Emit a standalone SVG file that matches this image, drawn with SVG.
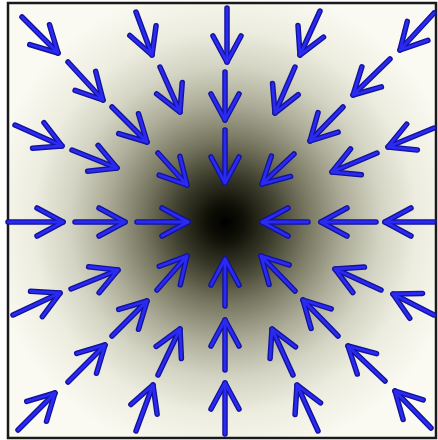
<svg xmlns="http://www.w3.org/2000/svg" xmlns:xlink="http://www.w3.org/1999/xlink" width="438" height="440" viewBox="0 0 438 440">
<style>
.dark{stroke:#12129a;stroke-width:5.5;stroke-linecap:round;marker-end:url(#hd);fill:none}
.bright{stroke:#2a2af2;stroke-width:2.8;stroke-linecap:round;marker-end:url(#hb);fill:none}
</style>
<defs>
<radialGradient id="bg" gradientUnits="userSpaceOnUse" cx="225" cy="222" r="240">
<stop offset="0" stop-color="#000000"/>
<stop offset="0.08" stop-color="#111108"/>
<stop offset="0.2" stop-color="#3c3c2c"/>
<stop offset="0.35" stop-color="#7a7a64"/>
<stop offset="0.5" stop-color="#acac98"/>
<stop offset="0.65" stop-color="#d4d4c4"/>
<stop offset="0.8" stop-color="#ececdf"/>
<stop offset="1" stop-color="#fafaf2"/>
</radialGradient>
<marker id="hd" markerUnits="userSpaceOnUse" viewBox="-36 -22 44 44" markerWidth="44" markerHeight="44" refX="0" refY="0" orient="auto" overflow="visible">
<path d="M-26,-14 L0,0 L-26,14" fill="none" stroke="#12129a" stroke-width="5.5" stroke-linecap="round" stroke-linejoin="round"/>
</marker>
<marker id="hb" markerUnits="userSpaceOnUse" viewBox="-36 -22 44 44" markerWidth="44" markerHeight="44" refX="0" refY="0" orient="auto" overflow="visible">
<path d="M-26,-14 L0,0 L-26,14" fill="none" stroke="#2a2af2" stroke-width="2.8" stroke-linecap="round" stroke-linejoin="round"/>
</marker>
<g id="field">
<line x1="8" y1="222" x2="63" y2="222"/>
<line x1="75" y1="222" x2="125" y2="222"/>
<line x1="137" y1="222" x2="188" y2="222"/>
<line x1="434" y1="222" x2="385" y2="222"/>
<line x1="376" y1="222" x2="321" y2="222"/>
<line x1="308" y1="222" x2="262" y2="222"/>
<line x1="227" y1="8" x2="227" y2="62"/>
<line x1="225" y1="72" x2="225" y2="120"/>
<line x1="225" y1="130" x2="225" y2="183"/>
<line x1="225" y1="306" x2="225" y2="259"/>
<line x1="225" y1="370" x2="225" y2="320"/>
<line x1="225" y1="434" x2="225" y2="383"/>
<line x1="22" y1="17" x2="58" y2="53"/>
<line x1="68" y1="62" x2="103" y2="100"/>
<line x1="112" y1="107" x2="147" y2="142"/>
<line x1="158" y1="153" x2="187" y2="185"/>
<line x1="136" y1="12" x2="152" y2="55"/>
<line x1="160" y1="67" x2="180" y2="112"/>
<line x1="15" y1="125" x2="62" y2="146"/>
<line x1="72" y1="150" x2="117" y2="168"/>
<line x1="434" y1="13" x2="400" y2="50"/>
<line x1="390" y1="59" x2="353" y2="95"/>
<line x1="343" y1="107" x2="310" y2="141"/>
<line x1="294" y1="154" x2="262" y2="184"/>
<line x1="320" y1="11" x2="300" y2="55"/>
<line x1="295" y1="67" x2="275" y2="113"/>
<line x1="434" y1="128" x2="388" y2="147"/>
<line x1="377" y1="153" x2="332" y2="172"/>
<line x1="157" y1="290" x2="187" y2="256"/>
<line x1="112" y1="336" x2="147" y2="301"/>
<line x1="68" y1="382" x2="105" y2="345"/>
<line x1="18" y1="430" x2="55" y2="393"/>
<line x1="13" y1="315" x2="60" y2="293"/>
<line x1="71" y1="289" x2="118" y2="270"/>
<line x1="158" y1="375" x2="180" y2="329"/>
<line x1="136" y1="431" x2="153" y2="385"/>
<line x1="295" y1="291" x2="261" y2="256"/>
<line x1="338" y1="336" x2="303" y2="300"/>
<line x1="385" y1="381" x2="348" y2="346"/>
<line x1="431" y1="428" x2="395" y2="391"/>
<line x1="381" y1="290" x2="335" y2="269"/>
<line x1="434" y1="315" x2="393" y2="294"/>
<line x1="293" y1="375" x2="272" y2="329"/>
<line x1="318" y1="431" x2="297" y2="385"/>
</g>
</defs>
<rect x="0" y="0" width="438" height="440" fill="#ffffff"/>
<rect x="8" y="3" width="428" height="435" fill="url(#bg)" stroke="#1a1a1a" stroke-width="2.5"/>
<g id="connectors">
<use xlink:href="#field" class="dark"/>
<use xlink:href="#field" class="bright"/>
</g>
</svg>
